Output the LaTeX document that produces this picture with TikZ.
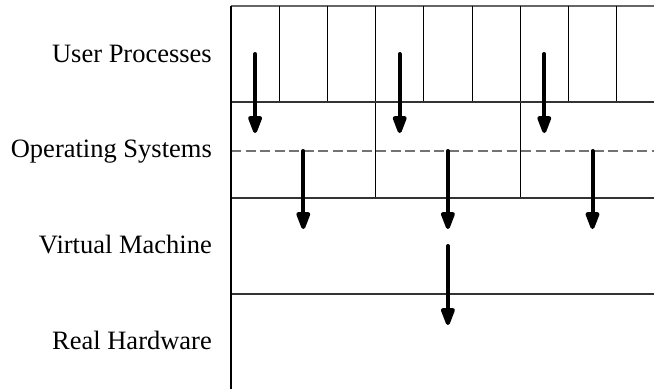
\documentclass[tikz,border=0pt]{standalone}
\usepackage{fontspec}
\setmainfont{Liberation Serif}
\usetikzlibrary{arrows.meta}
\tikzset{
  lbl/.style={anchor=base east, inner sep=0pt, font=\fontsize{26.5}{30}\selectfont},
  colline/.style={black, line width=1pt},
  rowline/.style={black!80, line width=1.5pt},
  topline/.style={black!60, line width=1.3pt},
  dashline/.style={black!55, line width=1.2pt, dash pattern=on 10pt off 4.5pt},
  flow/.style={line width=4pt, line cap=round, -{Triangle[length=21pt,width=14.5pt,round]}}
}
\begin{document}
\begin{tikzpicture}[x=1pt,y=-1pt]
\useasboundingbox (0,0) rectangle (654,389);
% labels
\node[lbl] (up) at (212,62) {User Processes};
\node[lbl] (os) at (212,157.5) {Operating Systems};
\node[lbl] (vm) at (212,253) {Virtual Machine};
\node[lbl] (rh) at (212,349) {Real Hardware};
% frame
\draw[topline] (231,6) -- (654,6);
\draw[dashline] (231,151) -- (654,151);
\foreach \i in {1,...,8} {
  \draw[colline] ({231+48.2*\i},6) -- ({231+48.2*\i},102);
}
\draw[colline] ({231+48.2*3},102) -- ({231+48.2*3},198);
\draw[colline] ({231+48.2*6},102) -- ({231+48.2*6},198);
\foreach \y in {102,198,294} {
  \draw[rowline] (231,\y) -- (654,\y);
}
\draw[colline, line width=1.2pt] (231,6) -- (231,389);
% arrows
\foreach \k/\c in {0/a,3/b,6/c} {
  \coordinate (s1\c) at ({231+48.2*\k+24.1},54);
  \coordinate (e1\c) at ({231+48.2*\k+24.1},133);
  \draw[flow] (s1\c) -- (e1\c);
}
\foreach \k/\c in {1/a,4/b,7/c} {
  \coordinate (s2\c) at ({231+48.2*\k+24.1},151);
  \coordinate (e2\c) at ({231+48.2*\k+24.1},229);
  \draw[flow] (s2\c) -- (e2\c);
}
\coordinate (s3) at ({231+48.2*4+24.1},246);
\coordinate (e3) at ({231+48.2*4+24.1},325);
\draw[flow] (s3) -- (e3);
\end{tikzpicture}
\end{document}
